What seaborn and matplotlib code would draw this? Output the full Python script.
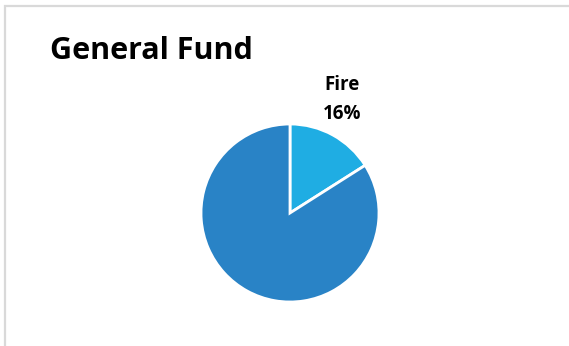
import matplotlib
matplotlib.use("Agg")
import matplotlib.pyplot as plt
from matplotlib.patches import Rectangle
import seaborn as sns

# Data
categories = ["Fire", "Other"]
shares = [16, 84]
slice_colors = ["#1FADE3", "#2983C6"]

sns.set_theme(style="white")
plt.rcParams["font.family"] = ["Open Sans", "DejaVu Sans"]

W, H, DPI = 569, 346, 100
fig = plt.figure(figsize=(W / DPI, H / DPI), dpi=DPI)
fig.patch.set_facecolor("white")

# Light grey chart frame (top and left edges visible)
fig.patches.append(Rectangle((5 / W, -0.1), 1.2, (H - 6) / H + 0.1,
                             transform=fig.transFigure, fill=False,
                             edgecolor="#D9D9D9", linewidth=1.6, zorder=0))

# Pie axes: centre (290, 213) px, radius 89 px
cx, cy, r = 290, 213, 89
L = 1.6
side = 2 * r * L
ax = fig.add_axes([(cx - r * L) / W, (H - cy - r * L) / H, side / W, side / H])

wedges, _ = ax.pie(shares, colors=slice_colors, startangle=90, counterclock=False,
                   radius=1.0,
                   wedgeprops=dict(edgecolor="white", linewidth=2.0))
ax.set_xlim(-L, L)
ax.set_ylim(-L, L)
ax.set_aspect("equal")
ax.axis("off")

# Data label for the Fire slice
ax.text((342 - cx) / r, (cy - 99.5) / r, f"{categories[0]}\n{shares[0]}%",
        ha="center", va="center", fontsize=13.5, fontweight="bold",
        color="black", linespacing=1.55)

fig.text(50 / W, 1 - 59 / H, "General Fund", ha="left", va="baseline",
         fontsize=22, fontweight="bold", color="black")

fig.savefig("out.png", dpi=DPI, facecolor="white")
